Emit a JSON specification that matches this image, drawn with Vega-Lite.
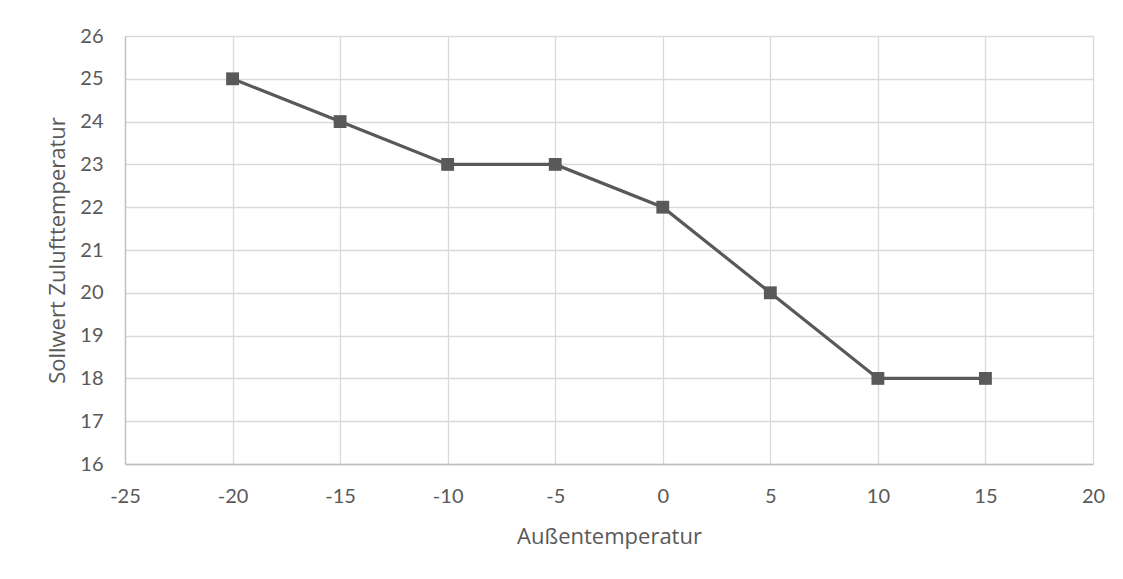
{
  "$schema": "https://vega.github.io/schema/vega-lite/v6.json",
  "width": 968,
  "height": 428,
  "autosize": {"type": "none"},
  "padding": {"left": 125, "top": 36, "right": 30, "bottom": 115},
  "background": "white",
  "config": {
    "view": {"stroke": null},
    "font": "Lato",
    "axis": {
      "labelFont": "Lato", "titleFont": "Open Sans",
      "labelColor": "#595959", "titleColor": "#595959",
      "labelFontSize": 20, "titleFontSize": 22, "titleFontWeight": "normal",
      "gridColor": "#d9d9d9", "gridWidth": 1.3,
      "domainColor": "#bfbfbf", "domainWidth": 1.3,
      "ticks": false
    }
  },
  "data": {"values": [
    {"x": -20, "y": 25},
    {"x": -15, "y": 24},
    {"x": -10, "y": 23},
    {"x": -5, "y": 23},
    {"x": 0, "y": 22},
    {"x": 5, "y": 20},
    {"x": 10, "y": 18},
    {"x": 15, "y": 18}
  ]},
  "encoding": {
    "x": {"field": "x", "type": "quantitative",
      "scale": {"domain": [-25, 20], "nice": false, "zero": false},
      "axis": {"values": [-25, -20, -15, -10, -5, 0, 5, 10, 15, 20], "labelExpr": "toString(datum.value)", "title": "Außentemperatur", "labelPadding": 22, "titlePadding": 20, "labelFlush": false}},
    "y": {"field": "y", "type": "quantitative",
      "scale": {"domain": [16, 26], "nice": false, "zero": false},
      "axis": {"values": [16, 17, 18, 19, 20, 21, 22, 23, 24, 25, 26], "title": "Sollwert Zulufttemperatur", "labelPadding": 22, "titlePadding": 10, "labelFlush": false}}
  },
  "layer": [
    {"mark": {"type": "line", "color": "#595959", "strokeWidth": 3.2}},
    {"mark": {"type": "point", "shape": "square", "filled": true, "color": "#595959", "opacity": 1, "size": 165}}
  ]
}
